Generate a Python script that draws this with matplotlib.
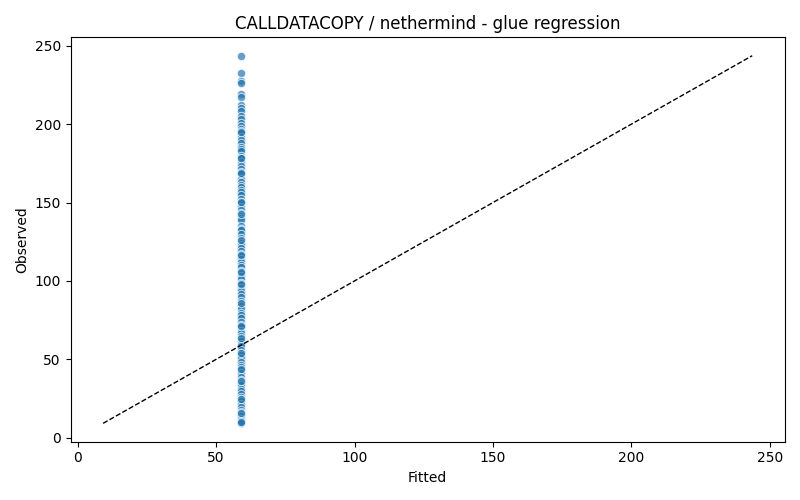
import numpy as np
import matplotlib
matplotlib.use('Agg')
import matplotlib.pyplot as plt

# Fitted value is constant for every sample
fitted_value = 59.1

observed = [243.6, 232.7, 227.5, 226.4, 219.0, 217.5, 212.0, 210.2, 208.1, 205.3,
            203.0, 200.4, 198.6, 196.9, 195.5, 194.2, 192.0, 190.1, 188.0, 185.6,
            184.2, 182.7, 179.5, 178.1, 176.0, 173.4, 171.2, 169.6, 168.0, 165.2,
            163.1, 161.4, 159.7, 158.0, 156.5, 154.9, 152.3, 150.6, 149.8, 147.1,
            145.0, 143.2, 141.6, 140.1, 138.7, 135.3, 133.4, 132.6, 129.8, 127.5,
            125.6, 124.4, 122.9, 121.3, 119.0, 117.2, 115.8, 114.3, 112.0, 110.4,
            108.6, 106.3, 104.9, 103.0, 101.2, 98.6, 97.4, 95.8, 93.5, 91.8,
            89.9, 87.4, 85.6, 84.0, 81.9, 79.6, 78.0, 76.2, 73.5, 71.6,
            70.4, 68.2, 66.7, 65.0, 63.2, 61.4, 60.1, 58.4, 56.2, 54.1,
            53.0, 50.8, 48.4, 46.2, 44.9, 43.1, 41.0, 38.6, 36.7, 35.2,
            33.4, 31.0, 29.6, 28.0, 26.3, 24.5, 23.2, 21.4, 19.6, 17.8,
            16.2, 15.0, 13.6, 12.1, 10.6, 9.2,
            194.8, 178.6, 169.0, 150.1, 142.5, 126.0, 116.6, 97.9, 106.0, 86.1,
            71.0, 63.9, 54.3, 44.0, 36.0, 25.0, 16.0, 10.0]

fitted = [fitted_value] * len(observed)

fig, ax = plt.subplots(figsize=(8, 5), dpi=100)
ax.scatter(fitted, observed, s=36, color='#1f77b4', alpha=0.7,
           edgecolors='white', linewidths=0.75)
lo = min(min(fitted), min(observed))
hi = max(max(fitted), max(observed))
ax.plot([lo, hi], [lo, hi], 'k--', linewidth=1)
ax.set_xlabel("Fitted")
ax.set_ylabel("Observed")
ax.set_title("CALLDATACOPY / nethermind - glue regression")
fig.tight_layout()
fig.savefig("out.png")
plt.close(fig)
